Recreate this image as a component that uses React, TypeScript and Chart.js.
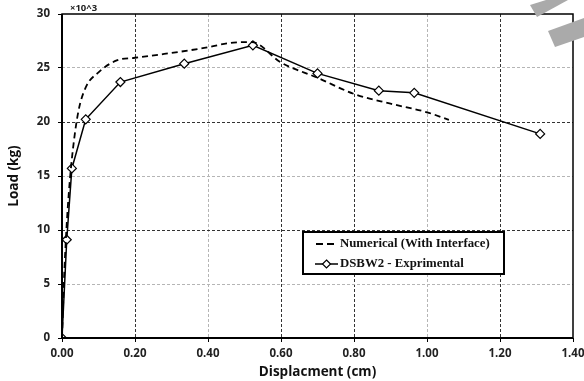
import React, { useEffect, useRef } from "react";
import { Chart, registerables } from "chart.js";

Chart.register(...registerables);

// Experimental (DSBW2)
const expX = [0, 0.013, 0.027, 0.065, 0.16, 0.335, 0.523, 0.70, 0.868, 0.965, 1.31];
const expY = [0, 9.1, 15.7, 20.25, 23.7, 25.4, 27.1, 24.5, 22.9, 22.7, 18.9];

// Numerical (With Interface)
const numX = [0, 0.005, 0.012, 0.02, 0.03, 0.045, 0.065, 0.1, 0.15, 0.2, 0.28, 0.38, 0.47, 0.52, 0.6, 0.7, 0.8, 0.9, 1.0, 1.06];
const numY = [0, 5, 10, 14, 17.5, 21, 23.2, 24.6, 25.7, 25.95, 26.3, 26.8, 27.35, 27.4, 25.5, 24.1, 22.6, 21.7, 20.9, 20.2];

const xTicks = [0, 0.2, 0.4, 0.6, 0.8, 1.0, 1.2, 1.4];
const yTicks = [0, 5, 10, 15, 20, 25, 30];

const numLabel = "Numerical (With Interface)";
const expLabel = "DSBW2 - Exprimental";
const xTitle = "Displacment (cm)";
const yTitle = "Load (kg)";
const scaleNote = "\u00d710^3";

const darkX = [0.2, 0.6, 0.8, 1.2];
const lightX = [0.4, 1.0];
const darkY = [10, 20];
const lightY = [5, 15, 25];

const decorPlugin = {
  id: "decor",
  beforeDraw(chart: any) {
    const ctx = chart.ctx;
    ctx.save();
    ctx.fillStyle = "#ffffff";
    ctx.fillRect(0, 0, chart.width, chart.height);
    ctx.restore();
  },
  afterDraw(chart: any) {
    const ctx = chart.ctx;
    const a = chart.chartArea;
    ctx.save();
    // plot frame
    ctx.strokeStyle = "#000";
    ctx.lineWidth = 1.5;
    ctx.setLineDash([]);
    ctx.strokeRect(a.left, a.top, a.right - a.left, a.bottom - a.top);
    ctx.lineWidth = 2;
    ctx.beginPath();
    ctx.moveTo(a.left, a.top);
    ctx.lineTo(a.left, a.bottom);
    ctx.lineTo(a.right, a.bottom);
    ctx.stroke();

    // scale note
    ctx.fillStyle = "#222";
    ctx.font = "bold 9.5px 'Open Sans'";
    ctx.textAlign = "left";
    ctx.textBaseline = "alphabetic";
    ctx.fillText(scaleNote, a.left + 8, a.top - 3);

    // legend
    const lx = 303, ly = 232, lw = 201, lh = 42;
    ctx.fillStyle = "#fff";
    ctx.fillRect(lx, ly, lw, lh);
    ctx.strokeStyle = "#000";
    ctx.lineWidth = 2;
    ctx.strokeRect(lx, ly, lw, lh);

    ctx.lineWidth = 2;
    ctx.setLineDash([7, 4]);
    ctx.beginPath();
    ctx.moveTo(316, 244);
    ctx.lineTo(334, 244);
    ctx.stroke();
    ctx.setLineDash([]);

    ctx.lineWidth = 1.5;
    ctx.beginPath();
    ctx.moveTo(315, 264);
    ctx.lineTo(338, 264);
    ctx.stroke();
    ctx.fillStyle = "#fff";
    ctx.beginPath();
    ctx.moveTo(326.5, 260);
    ctx.lineTo(330.5, 264);
    ctx.lineTo(326.5, 268);
    ctx.lineTo(322.5, 264);
    ctx.closePath();
    ctx.fill();
    ctx.lineWidth = 1.2;
    ctx.stroke();

    ctx.fillStyle = "#111";
    ctx.font = "bold 12.8px 'Liberation Serif'";
    ctx.textBaseline = "middle";
    ctx.fillText(numLabel, 340, 244);
    ctx.fillText(expLabel, 340, 264);

    // watermark fragments
    ctx.fillStyle = "#aaaaaa";
    ctx.beginPath();
    ctx.moveTo(530, 5);
    ctx.lineTo(546, 0);
    ctx.lineTo(568, 0);
    ctx.lineTo(537, 17);
    ctx.closePath();
    ctx.fill();
    ctx.beginPath();
    ctx.moveTo(548, 31);
    ctx.lineTo(584, 18);
    ctx.lineTo(584, 37);
    ctx.lineTo(555, 47);
    ctx.closePath();
    ctx.fill();
    ctx.restore();
  },
};

function gridColor(value: number, dark: number[], light: number[]) {
  if (dark.some((d) => Math.abs(d - value) < 1e-6)) return "#333333";
  if (light.some((d) => Math.abs(d - value) < 1e-6)) return "#b5b5b5";
  return "rgba(0,0,0,0)";
}

export default function App() {
  const ref = useRef<HTMLCanvasElement | null>(null);

  useEffect(() => {
    document.body.style.margin = "0";
    const canvas = ref.current!;
    const chart = new Chart(canvas, {
      type: "scatter",
      data: {
        datasets: [
          {
            label: numLabel,
            data: numX.map((x, i) => ({ x, y: numY[i] })),
            showLine: true,
            borderColor: "#000",
            borderWidth: 1.8,
            borderDash: [6, 4],
            pointRadius: 0,
            cubicInterpolationMode: "monotone",
            fill: false,
          },
          {
            label: expLabel,
            data: expX.map((x, i) => ({ x, y: expY[i] })),
            showLine: true,
            borderColor: "#000",
            borderWidth: 1.5,
            pointStyle: "rectRot",
            pointRadius: 4.5,
            pointBackgroundColor: "#fff",
            pointBorderColor: "#000",
            pointBorderWidth: 1.2,
            tension: 0,
            fill: false,
          },
        ],
      },
      options: {
        animation: false,
        responsive: false,
        events: [],
        layout: { padding: { left: 0, top: 14, right: 11, bottom: 0 } },
        plugins: {
          legend: { display: false },
          tooltip: { enabled: false },
        },
        scales: {
          x: {
            type: "linear",
            min: 0,
            max: 1.4,
            afterFit: (s: any) => {
              s.height = 43;
              s.paddingLeft = 0;
              s.paddingRight = 0;
            },
            afterBuildTicks: (s: any) => {
              s.ticks = xTicks.map((v) => ({ value: v }));
            },
            border: { display: false, dash: [3, 2] },
            grid: {
              color: (c: any) => gridColor(c.tick ? c.tick.value : -1, darkX, lightX),
              lineWidth: 1,
              drawTicks: true,
              tickLength: 4,
              tickColor: "#000",
              tickWidth: 1,
              tickBorderDash: [],
            },
            ticks: {
              color: "#222",
              padding: 5,
              font: { family: "'Open Sans'", size: 11.5, weight: "bold" },
              callback: (v: any) => Number(v).toFixed(2),
              maxRotation: 0,
            },
            title: {
              display: true,
              text: xTitle,
              color: "#111",
              font: { family: "'Open Sans'", size: 13.5, weight: "bold" },
              padding: { top: 0, bottom: 1 },
            },
          },
          y: {
            type: "linear",
            min: 0,
            max: 30,
            afterFit: (s: any) => {
              s.width = 62;
              s.paddingTop = 0;
              s.paddingBottom = 0;
            },
            afterBuildTicks: (s: any) => {
              s.ticks = yTicks.map((v) => ({ value: v }));
            },
            border: { display: false, dash: [3, 2] },
            grid: {
              color: (c: any) => gridColor(c.tick ? c.tick.value : -1, darkY, lightY),
              lineWidth: 1,
              drawTicks: true,
              tickLength: 4,
              tickColor: "#000",
              tickWidth: 1,
              tickBorderDash: [],
            },
            ticks: {
              color: "#222",
              padding: 8,
              font: { family: "'Open Sans'", size: 11.5, weight: "bold" },
              callback: (v: any) => String(v),
            },
            title: {
              display: true,
              text: yTitle,
              color: "#111",
              font: { family: "'Open Sans'", size: 13.5, weight: "bold" },
              padding: { top: 6, bottom: 0 },
            },
          },
        },
      },
      plugins: [decorPlugin],
    });
    return () => chart.destroy();
  }, []);

  return (
    <div style={{ width: 584, height: 381 }}>
      <canvas ref={ref} width={584} height={381} style={{ display: "block" }} />
    </div>
  );
}
